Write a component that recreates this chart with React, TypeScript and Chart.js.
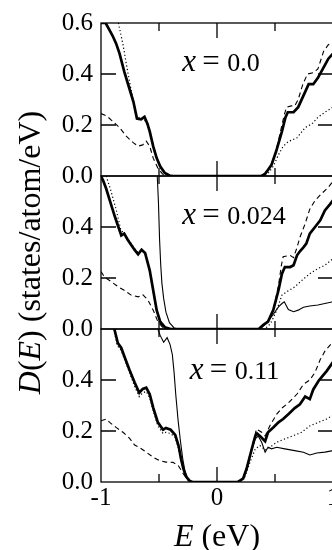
import React, { useEffect, useRef } from 'react';
import { Chart, registerables } from 'chart.js';

Chart.register(...registerables);

type Pt = [number, number];

// x-axis (energy, eV) ticks and labels
const energyTicks = [-1, -0.5, 0, 0.5, 1];
const dosTicks = [0, 0.2, 0.4, 0.6];
const panelLabels = ['0.0', '0.024', '0.11'];

// ---------- panel 1 : x = 0.0 ----------
const p1Thick: Pt[] = [
  [-1, 0.6], [-0.96, 0.6], [-0.93, 0.575], [-0.9, 0.55], [-0.87, 0.52], [-0.84, 0.48], [-0.8, 0.41],
  [-0.76, 0.35], [-0.72, 0.29], [-0.69, 0.225], [-0.655, 0.222], [-0.625, 0.232], [-0.6, 0.205],
  [-0.58, 0.175], [-0.55, 0.116], [-0.52, 0.07], [-0.49, 0.038], [-0.45, 0.012], [-0.41, 0.002], [-0.38, 0],
  [0.38, 0], [0.41, 0.006], [0.43, 0.018], [0.47, 0.044], [0.51, 0.097], [0.56, 0.175], [0.59, 0.23],
  [0.61, 0.25], [0.66, 0.25], [0.7, 0.27], [0.76, 0.33], [0.79, 0.36], [0.83, 0.36], [0.87, 0.385],
  [0.93, 0.435], [0.96, 0.46], [1, 0.48],
];
const p1Dot: Pt[] = [
  [-0.85, 0.6], [-0.81, 0.515], [-0.78, 0.435], [-0.75, 0.36], [-0.72, 0.29], [-0.7, 0.24], [-0.67, 0.228],
  [-0.63, 0.225], [-0.6, 0.2], [-0.57, 0.16], [-0.54, 0.105], [-0.51, 0.06], [-0.48, 0.03], [-0.44, 0.008], [-0.4, 0],
  [0.4, 0], [0.44, 0.01], [0.485, 0.038], [0.53, 0.083], [0.57, 0.116], [0.615, 0.135], [0.69, 0.15],
  [0.76, 0.19], [0.82, 0.205], [0.87, 0.23], [0.93, 0.25], [1, 0.27],
];
const p1Dash: Pt[] = [
  [-1, 0.245], [-0.95, 0.235], [-0.9, 0.215], [-0.84, 0.19], [-0.78, 0.155], [-0.72, 0.13], [-0.68, 0.117],
  [-0.64, 0.122], [-0.61, 0.137], [-0.58, 0.117], [-0.55, 0.07], [-0.51, 0.031], [-0.47, 0.008], [-0.43, 0],
  [0.38, 0], [0.43, 0.018], [0.47, 0.046], [0.51, 0.1], [0.55, 0.18], [0.58, 0.24], [0.6, 0.27], [0.64, 0.275],
  [0.67, 0.275], [0.7, 0.3], [0.74, 0.36], [0.78, 0.4], [0.83, 0.405], [0.87, 0.42], [0.92, 0.49],
  [0.96, 0.515], [1, 0.525],
];

// ---------- panel 2 : x = 0.024 ----------
const p2Thick: Pt[] = [
  [-1, 0.6], [-0.98, 0.58], [-0.955, 0.55], [-0.925, 0.505], [-0.88, 0.44], [-0.85, 0.4], [-0.825, 0.367],
  [-0.8, 0.374], [-0.77, 0.35], [-0.71, 0.31], [-0.68, 0.293], [-0.65, 0.311], [-0.62, 0.298], [-0.58, 0.23],
  [-0.55, 0.152], [-0.52, 0.074], [-0.49, 0.029], [-0.45, 0.007], [-0.4, 0],
  [0.36, 0], [0.4, 0.016], [0.44, 0.029], [0.485, 0.074], [0.53, 0.152], [0.56, 0.217], [0.585, 0.243],
  [0.63, 0.243], [0.66, 0.25], [0.69, 0.289], [0.715, 0.305], [0.745, 0.32], [0.77, 0.335], [0.8, 0.374],
  [0.845, 0.4], [0.89, 0.426], [0.93, 0.465], [0.975, 0.49], [1, 0.505],
];
const p2Dot: Pt[] = [
  [-0.955, 0.6], [-0.92, 0.55], [-0.87, 0.47], [-0.83, 0.39], [-0.8, 0.372], [-0.77, 0.355], [-0.71, 0.315],
  [-0.68, 0.298], [-0.65, 0.31], [-0.62, 0.295], [-0.58, 0.225], [-0.55, 0.145], [-0.52, 0.07], [-0.49, 0.027],
  [-0.45, 0.006], [-0.4, 0],
  [0.4, 0], [0.44, 0.01], [0.47, 0.029], [0.515, 0.074], [0.56, 0.133], [0.6, 0.146], [0.67, 0.165],
  [0.73, 0.19], [0.8, 0.217], [0.87, 0.237], [0.93, 0.25], [1, 0.276],
];
const p2Dash: Pt[] = [
  [-1, 0.225], [-0.97, 0.204], [-0.91, 0.185], [-0.85, 0.165], [-0.8, 0.152], [-0.74, 0.133], [-0.68, 0.126],
  [-0.64, 0.135], [-0.595, 0.113], [-0.55, 0.074], [-0.51, 0.029], [-0.47, 0.007], [-0.43, 0],
  [0.36, 0], [0.4, 0.016], [0.44, 0.03], [0.485, 0.075], [0.53, 0.17], [0.555, 0.25], [0.57, 0.283],
  [0.63, 0.289], [0.66, 0.28], [0.69, 0.32], [0.715, 0.36], [0.76, 0.413], [0.8, 0.47], [0.845, 0.504],
  [0.9, 0.53], [0.96, 0.556], [1, 0.58],
];
const p2Thin: Pt[] = [
  [-0.515, 0.6], [-0.505, 0.5], [-0.495, 0.35], [-0.485, 0.25], [-0.475, 0.18], [-0.46, 0.12], [-0.44, 0.066],
  [-0.41, 0.025], [-0.37, 0.004], [-0.33, 0],
  [0.37, 0], [0.41, 0.016], [0.47, 0.048], [0.53, 0.087], [0.56, 0.1], [0.58, 0.107], [0.615, 0.076],
  [0.66, 0.068], [0.7, 0.074], [0.745, 0.085], [0.8, 0.09], [0.87, 0.094], [0.93, 0.1], [1, 0.107],
];

// ---------- panel 3 : x = 0.11 ----------
const p3Thick: Pt[] = [
  [-0.885, 0.6], [-0.855, 0.545], [-0.825, 0.526], [-0.8, 0.494], [-0.755, 0.44], [-0.71, 0.39], [-0.67, 0.35],
  [-0.64, 0.365], [-0.61, 0.37], [-0.58, 0.344], [-0.55, 0.292], [-0.51, 0.234], [-0.465, 0.205], [-0.44, 0.212],
  [-0.4, 0.205], [-0.36, 0.185], [-0.33, 0.14], [-0.31, 0.09], [-0.29, 0.052], [-0.265, 0.02], [-0.235, 0.004],
  [-0.21, 0],
  [0.18, 0], [0.225, 0.013], [0.255, 0.052], [0.285, 0.104], [0.315, 0.156], [0.33, 0.18], [0.345, 0.19],
  [0.37, 0.18], [0.415, 0.16], [0.44, 0.195], [0.485, 0.214], [0.53, 0.234], [0.57, 0.247], [0.615, 0.266],
  [0.67, 0.29], [0.715, 0.305], [0.76, 0.335], [0.8, 0.325], [0.83, 0.363], [0.875, 0.396], [0.9, 0.41],
  [0.945, 0.435], [1, 0.47],
];
const p3Dot: Pt[] = [
  [-0.89, 0.6], [-0.86, 0.535], [-0.825, 0.515], [-0.8, 0.485], [-0.755, 0.43], [-0.71, 0.375], [-0.67, 0.335],
  [-0.64, 0.35], [-0.61, 0.355], [-0.58, 0.33], [-0.55, 0.28], [-0.51, 0.22], [-0.465, 0.19], [-0.44, 0.195],
  [-0.4, 0.19], [-0.36, 0.175], [-0.335, 0.135], [-0.31, 0.085], [-0.29, 0.048], [-0.265, 0.018],
  [-0.235, 0.003], [-0.21, 0],
  [0.19, 0], [0.24, 0.02], [0.285, 0.078], [0.33, 0.13], [0.37, 0.143], [0.415, 0.125], [0.455, 0.136],
  [0.515, 0.156], [0.585, 0.169], [0.66, 0.182], [0.73, 0.195], [0.8, 0.22], [0.875, 0.234], [0.945, 0.247],
  [1, 0.262],
];
const p3Dash: Pt[] = [
  [-1, 0.24], [-0.955, 0.247], [-0.925, 0.234], [-0.87, 0.214], [-0.81, 0.195], [-0.755, 0.172], [-0.71, 0.145],
  [-0.67, 0.136], [-0.61, 0.117], [-0.55, 0.097], [-0.495, 0.084], [-0.44, 0.078], [-0.38, 0.077],
  [-0.335, 0.065], [-0.29, 0.032], [-0.25, 0.007], [-0.22, 0],
  [0.19, 0], [0.225, 0.015], [0.255, 0.055], [0.285, 0.108], [0.315, 0.16], [0.34, 0.208], [0.385, 0.195],
  [0.415, 0.18], [0.455, 0.22], [0.515, 0.266], [0.56, 0.29], [0.615, 0.31], [0.69, 0.345], [0.745, 0.383],
  [0.8, 0.4], [0.845, 0.43], [0.89, 0.48], [0.93, 0.513], [1, 0.55],
];
const p3Thin: Pt[] = [
  [-0.51, 0.6], [-0.49, 0.575], [-0.46, 0.548], [-0.43, 0.566], [-0.405, 0.54], [-0.385, 0.5], [-0.37, 0.43],
  [-0.355, 0.34], [-0.335, 0.24], [-0.315, 0.16], [-0.295, 0.09], [-0.275, 0.04], [-0.25, 0.012], [-0.22, 0],
  [0.19, 0], [0.23, 0.02], [0.26, 0.06], [0.29, 0.11], [0.33, 0.169], [0.355, 0.18], [0.385, 0.156],
  [0.415, 0.117], [0.44, 0.136], [0.47, 0.13], [0.515, 0.136], [0.585, 0.13], [0.67, 0.123], [0.745, 0.117],
  [0.8, 0.106], [0.86, 0.114], [0.93, 0.117], [1, 0.123],
];

// annotation anchors (left edge, baseline) in data coordinates
const annotE = [-0.3, -0.3, -0.235];
const annotD = [0.41, 0.413, 0.404];

const SERIF = "'Liberation Serif', 'Times New Roman', Times, serif";

export default function App() {
  const ref = useRef<HTMLCanvasElement>(null);

  useEffect(() => {
    const canvas = ref.current;
    if (!canvas) return;
    const toXY = (a: Pt[]) => a.map(([x, y]) => ({ x, y }));

    const panels = [
      { id: 'yTop', thick: p1Thick, dot: p1Dot, dash: p1Dash, thin: null as Pt[] | null },
      { id: 'yMid', thick: p2Thick, dot: p2Dot, dash: p2Dash, thin: p2Thin },
      { id: 'yBot', thick: p3Thick, dot: p3Dot, dash: p3Dash, thin: p3Thin },
    ];

    const datasets: any[] = [];
    panels.forEach((p) => {
      const base = { yAxisID: p.id, xAxisID: 'x', borderColor: '#000', pointRadius: 0, fill: false, tension: 0 };
      datasets.push({ ...base, label: p.id + '-dash', data: toXY(p.dash), borderWidth: 1.1, borderDash: [5, 3.5] });
      datasets.push({ ...base, label: p.id + '-dot', data: toXY(p.dot), borderWidth: 1.2, borderDash: [1.2, 2.4] });
      if (p.thin) datasets.push({ ...base, label: p.id + '-thin', data: toXY(p.thin), borderWidth: 1.1 });
      datasets.push({ ...base, label: p.id + '-thick', data: toXY(p.thick), borderWidth: 2.7 });
    });

    const yScale = (hideTop: boolean) => ({
      type: 'linear',
      position: 'left',
      stack: 'panels',
      stackWeight: 1,
      min: 0,
      max: 0.6,
      offset: false,
      grid: { display: false, drawTicks: false },
      border: { display: false },
      afterBuildTicks: (s: any) => {
        s.ticks = dosTicks.map((v) => ({ value: v }));
      },
      ticks: {
        font: { family: SERIF, size: 25 },
        color: '#000',
        padding: 8,
        autoSkip: false,
        callback: (v: number) => (hideTop && v > 0.59 ? '' : Number(v).toFixed(1)),
      },
      afterFit: (s: any) => {
        s.width = 101;
      },
    });

    const framePlugin = {
      id: 'frames',
      afterDatasetsDraw(chart: any) {
        const { ctx, chartArea } = chart;
        const { left, right } = chartArea;
        const xs = chart.scales.x;
        ctx.save();
        ctx.strokeStyle = '#000';
        ctx.lineWidth = 1.3;
        panels.forEach((p, i) => {
          const s = chart.scales[p.id];
          const top = s.top;
          const bottom = s.bottom;
          ctx.strokeRect(left, top, right - left, bottom - top);
          ctx.beginPath();
          dosTicks.forEach((v) => {
            if (v <= 0.001 || v >= 0.599) return;
            const y = s.getPixelForValue(v);
            ctx.moveTo(left, y);
            ctx.lineTo(left + 15, y);
            ctx.moveTo(right, y);
            ctx.lineTo(right - 15, y);
          });
          energyTicks.forEach((v) => {
            if (Math.abs(v) > 0.999) return;
            const x = xs.getPixelForValue(v);
            const len = Number.isInteger(v) ? 15 : 8;
            ctx.moveTo(x, top);
            ctx.lineTo(x, top + len);
            ctx.moveTo(x, bottom);
            ctx.lineTo(x, bottom - len);
          });
          ctx.stroke();

          // panel annotation  "x = value"
          const L = xs.getPixelForValue(annotE[i]);
          const B = s.getPixelForValue(annotD[i]);
          ctx.fillStyle = '#000';
          ctx.textBaseline = 'alphabetic';
          ctx.textAlign = 'left';
          ctx.font = `italic 31px ${SERIF}`;
          ctx.fillText('x', L, B);
          ctx.font = `31px ${SERIF}`;
          ctx.fillText('=', L + 20, B);
          ctx.font = `26px ${SERIF}`;
          ctx.fillText(panelLabels[i], L + 45, B);
        });

        // x-axis title: E (eV)
        const cx = (left + right) / 2;
        ctx.font = `italic 32px ${SERIF}`;
        const wE = ctx.measureText('E').width;
        ctx.font = `32px ${SERIF}`;
        const wRest = ctx.measureText(' (eV)').width;
        const x0 = cx - (wE + wRest) / 2;
        const by = xs.bottom - 4;
        ctx.textAlign = 'left';
        ctx.font = `italic 32px ${SERIF}`;
        ctx.fillText('E', x0, by);
        ctx.font = `32px ${SERIF}`;
        ctx.fillText(' (eV)', x0 + wE, by);

        // y-axis title: D(E) (states/atom/eV)
        const parts: [string, boolean][] = [['D', true], ['(', false], ['E', true], [') (states/atom/eV)', false]];
        const widths = parts.map(([t, it]) => {
          ctx.font = `${it ? 'italic ' : ''}32px ${SERIF}`;
          return ctx.measureText(t).width;
        });
        const total = widths.reduce((a, b) => a + b, 0);
        const cy = (chartArea.top + chartArea.bottom) / 2;
        ctx.translate(40, cy);
        ctx.rotate(-Math.PI / 2);
        let px = -total / 2;
        parts.forEach(([t, it], k) => {
          ctx.font = `${it ? 'italic ' : ''}32px ${SERIF}`;
          ctx.fillText(t, px, 0);
          px += widths[k];
        });
        ctx.restore();
      },
    };

    const chart = new Chart(canvas, {
      type: 'line',
      data: { datasets },
      options: {
        responsive: false,
        animation: false,
        devicePixelRatio: 1,
        layout: { padding: { left: 0, top: 20, right: 17, bottom: 0 } },
        plugins: { legend: { display: false }, tooltip: { enabled: false }, title: { display: false } },
        elements: { point: { radius: 0 }, line: { tension: 0 } },
        scales: {
          x: {
            type: 'linear',
            position: 'bottom',
            min: -1,
            max: 1,
            grid: { display: false, drawTicks: false },
            border: { display: false },
            afterBuildTicks: (s: any) => {
              s.ticks = energyTicks.map((v) => ({ value: v }));
            },
            ticks: {
              font: { family: SERIF, size: 25 },
              color: '#000',
              padding: 1,
              autoSkip: false,
              maxRotation: 0,
              callback: (v: number) => (Number.isInteger(v) ? String(v) : ''),
            },
            afterFit: (s: any) => {
              s.height = 68;
            },
          },
          yBot: yScale(true),
          yMid: yScale(true),
          yTop: yScale(false),
        } as any,
      },
      plugins: [framePlugin],
    } as any);

    return () => chart.destroy();
  }, []);

  return (
    <div style={{ position: 'fixed', left: 0, top: 0, width: 332, height: 550, overflow: 'hidden', background: '#fff' }}>
      <canvas ref={ref} width={350} height={550} style={{ display: 'block', width: 350, height: 550 }} />
    </div>
  );
}
